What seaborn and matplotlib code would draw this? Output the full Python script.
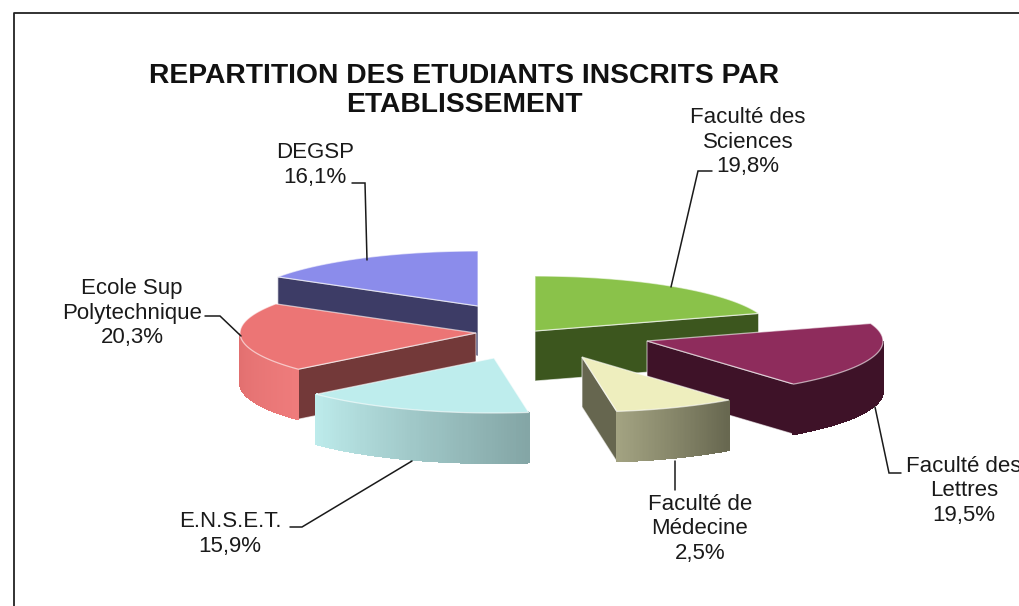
import numpy as np
import matplotlib
matplotlib.use('Agg')
import matplotlib.pyplot as plt
from matplotlib.patches import Polygon
import seaborn as sns

etablissements = ['Faculté des\nSciences', 'Faculté des\nLettres', 'Faculté de\nMédecine',
                  'E.N.S.E.T.', 'Ecole Sup\nPolytechnique', 'DEGSP']
# percentages printed on the labels
pct_labels = ['19,8%', '19,5%', '2,5%', '15,9%', '20,3%', '16,1%']
# slice sizes as drawn: the Medecine slice is drawn much bigger than its 2,5% label
# (it fills what the other five leave out of 100)
parts = [19.8, 19.5, 8.3, 15.9, 20.3, 16.1]

top_colors = ['#8AC24A', '#8E2C5C', '#EEEEBE', '#BEEDED', '#EC7575', '#8B8CEB']
radial_colors = ['#3C561E', '#3E1228', '#66664F', '#84A6A6', '#733939', '#3D3C66']
arc_left = ['#3C561E', '#3E1228', '#A3A382', '#BDEBEB', '#E06E6E', '#3D3C66']
arc_right = ['#3C561E', '#3E1228', '#686850', '#84A6A6', '#EE7B7B', '#3D3C66']

# layout (pixels), the slices were dragged apart by hand in the original
rx, ry, depth = 236, 55, 50
apex_x = [535, 647, 582, 494, 476, 478]
apex_y = [331, 341, 357, 358, 333, 306]

label_x = [748, 964, 700, 230, 132, 315]
label_y = [142, 491, 529, 534, 313, 165]
leaders = [([712, 698, 671], [171, 171, 287]),
           ([901, 889, 875], [473, 473, 407]),
           ([675, 675], [490, 461]),
           ([290, 302, 412], [527, 527, 461]),
           ([205, 220, 241], [316, 316, 336]),
           ([352, 365, 367], [183, 183, 260])]

sns.set_theme(style='white')
plt.rcParams['font.family'] = ['Liberation Sans', 'DejaVu Sans']

# let matplotlib work out the slice angles
fig0, ax0 = plt.subplots()
wedges, _ = ax0.pie(parts, startangle=90, counterclock=False)
plt.close(fig0)

fig = plt.figure(figsize=(10.2, 6.06), dpi=100)
ax = fig.add_axes([0, 0, 1, 1])
ax.set_xlim(0, 1020)
ax.set_ylim(606, 0)
ax.axis('off')

pale = (1, 1, 1, 0.6)


def draw_slice(i, z):
    t = np.radians(np.linspace(wedges[i].theta1, wedges[i].theta2, 80))
    xs = apex_x[i] + rx * np.cos(t)
    ys = apex_y[i] - ry * np.sin(t)
    px = np.r_[apex_x[i], xs]
    py = np.r_[apex_y[i], ys]

    # radial walls, only the ones facing the viewer
    for a, b in [(0, 1), (-1, 0)]:
        if px[b] > px[a]:
            quad = [(px[a], py[a]), (px[b], py[b]), (px[b], py[b] + depth), (px[a], py[a] + depth)]
            ax.add_patch(Polygon(quad, fc=radial_colors[i], ec=pale, lw=0.8, zorder=z))

    # outer wall, shaded strip by strip from left to right
    front = np.where(np.diff(xs) > 0)[0]
    if len(front):
        shades = sns.blend_palette([arc_left[i], arc_right[i]], len(front))
        for k, c in zip(front, shades):
            quad = [(xs[k], ys[k]), (xs[k + 1], ys[k + 1]),
                    (xs[k + 1], ys[k + 1] + depth), (xs[k], ys[k] + depth)]
            ax.add_patch(Polygon(quad, fc=c, ec=c, lw=0.8, antialiased=False, zorder=z + 0.1))

    ax.add_patch(Polygon(np.c_[px, py], fc=top_colors[i], ec=pale, lw=0.9, zorder=z + 0.2))


# back slices first
for z, i in enumerate(np.argsort(apex_y)):
    draw_slice(i, 2 + z)

for (lx, ly) in leaders:
    ax.plot(lx, ly, color='#1a1a1a', lw=1.1, zorder=20, solid_joinstyle='miter')

for i, name in enumerate(etablissements):
    ax.text(label_x[i], label_y[i], name + '\n' + pct_labels[i], ha='center', va='center',
            fontsize=16, color='#1a1a1a', linespacing=1.24, zorder=21)

ax.text(464, 76, 'REPARTITION DES ETUDIANTS INSCRITS PAR', ha='center', va='center',
        fontsize=20.3, fontweight='bold', color='#111111')
ax.text(464, 105, 'ETABLISSEMENT', ha='center', va='center',
        fontsize=20.3, fontweight='bold', color='#111111')

# chart frame, cut by the screenshot on the right and at the bottom
ax.plot([14.5, 14.5, 1020], [606, 12.5, 12.5], color='#222222', lw=1.3, clip_on=True)

fig.savefig('out.png', dpi=100)
